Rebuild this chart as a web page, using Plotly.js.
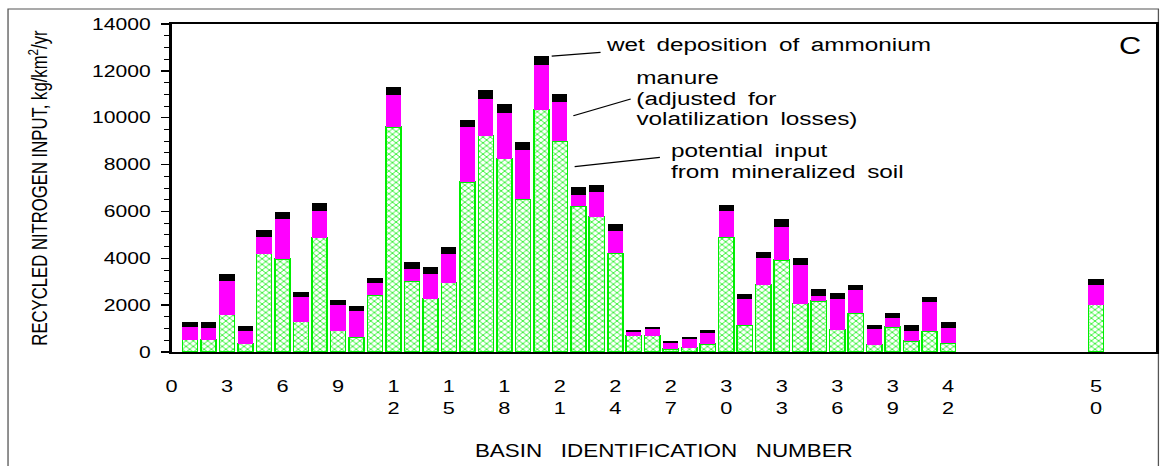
<!DOCTYPE html>
<html>
<head>
<meta charset="utf-8">
<script src="https://cdn.plot.ly/plotly-3.0.1.min.js"></script>
<style>
html,body{margin:0;padding:0;background:#fff;overflow:hidden;}
#wrap{width:1160px;height:466px;overflow:hidden;}
#chart{width:906px;height:466px;transform:scaleX(1.28035);transform-origin:0 0;}
</style>
</head>
<body>
<div id="wrap"><div id="chart"></div></div>
<script>
// Basin identification numbers
const basins = [1,2,3,4,5,6,7,8,9,10,11,12,13,14,15,16,17,18,19,20,21,22,23,24,25,26,27,28,29,30,31,32,33,34,35,36,37,38,39,40,41,42,50];
// Potential input from mineralized soil (kg/km2/yr)
const soil = [520,520,1590,360,4200,3970,1300,4880,910,630,2420,9600,3030,2280,2960,7260,9230,8250,6510,10340,9000,6220,5780,4220,700,700,130,190,340,4900,1140,2870,3930,2060,2180,950,1660,310,1070,470,880,380,2020];
// Manure, adjusted for volatilization losses (kg/km2/yr)
const manure = [530,500,1450,555,700,1710,1040,1150,1080,1140,530,1370,530,1050,1210,2330,1590,1950,2100,1920,1660,480,1040,950,170,300,270,380,470,1130,1140,1140,1410,1640,230,1310,1000,680,370,440,1240,640,850];
// Wet deposition of ammonium (kg/km2/yr)
const wet = [240,240,270,200,300,300,230,330,240,210,230,360,300,310,300,330,370,400,360,370,370,340,310,300,80,60,70,70,130,240,200,260,340,310,260,270,210,170,210,260,230,260,260];

const xTickVals = [0,3,6,9,12,15,18,21,24,27,30,33,36,39,42,50];
const xTickText = ["0","3","6","9","1<br>2","1<br>5","1<br>8","2<br>1","2<br>4","2<br>7","3<br>0","3<br>3","3<br>6","3<br>9","4<br>2","5<br>0"];
const yTickVals = [0,2000,4000,6000,8000,10000,12000,14000];

const FONT = "Liberation Sans, Arial, Helvetica, sans-serif";
const GREEN = "#00ee00";
const BW = 0.82;

const traces = [
  {
    type: "bar", x: basins, y: soil, width: BW, name: "potential input from mineralized soil",
    marker: {
      color: GREEN,
      pattern: {shape: "x", fgcolor: GREEN, bgcolor: "#ffffff", size: 4, solidity: 0.3, fillmode: "replace"},
      line: {color: GREEN, width: 1.2}
    },
    hoverinfo: "skip"
  },
  {
    type: "bar", x: basins, y: manure, width: BW, name: "manure",
    marker: {color: "#ff00ff", line: {width: 0}},
    hoverinfo: "skip"
  },
  {
    type: "bar", x: basins, y: wet, width: BW, name: "wet deposition of ammonium",
    marker: {color: "#000000", line: {width: 0}},
    hoverinfo: "skip"
  }
];

const ws = " \u2009";
function ann(text, x, y, size, anchor) {
  return {text: text, x: x, y: y, xref: "x", yref: "y", showarrow: false,
          xanchor: anchor || "left", yanchor: "middle", borderpad: 0,
          font: {family: FONT, size: size, color: "#000"}};
}

const layout = {
  width: 906, height: 466,
  margin: {l: 134, r: 3, t: 24, b: 114},
  paper_bgcolor: "#ffffff", plot_bgcolor: "#ffffff",
  barmode: "stack",
  showlegend: false,
  font: {family: FONT, color: "#000"},
  xaxis: {
    range: [0, 53.25],
    tickmode: "array", tickvals: xTickVals, ticktext: xTickText,
    ticks: "", ticklabelstandoff: 18,
    tickfont: {family: FONT, size: 17, color: "#000"},
    showline: true, linecolor: "#000", linewidth: 2, mirror: true,
    showgrid: false, zeroline: false,
    title: {text: "BASIN\u00a0\u00a0 IDENTIFICATION\u00a0\u00a0 NUMBER", font: {family: FONT, size: 17.5, color: "#000"}, standoff: 27}
  },
  yaxis: {
    range: [0, 14000],
    tickmode: "array", tickvals: yTickVals, tickformat: "d",
    ticks: "outside", ticklen: 6, tickwidth: 1.5, tickcolor: "#000",
    minor: {dtick: 500, ticks: "outside", ticklen: 4, tickwidth: 1, tickcolor: "#000", showgrid: false},
    ticklabelstandoff: 5,
    tickfont: {family: FONT, size: 16.5, color: "#000"},
    showline: true, linecolor: "#000", linewidth: 2, mirror: true,
    showgrid: false, zeroline: false,
    title: {text: "RECYCLED NITROGEN INPUT, kg/km<sup>2</sup>/yr", font: {family: FONT, size: 16.7, color: "#000"}, standoff: 30}
  },
  annotations: [
    ann("wet" + ws + "deposition" + ws + "of" + ws + "ammonium", 23.42, 13145, 19),
    ann("manure", 25.05, 11737, 19),
    ann("(adjusted" + ws + "for", 25.05, 10841, 19),
    ann("volatilization" + ws + "losses)", 25.05, 9987, 19),
    ann("potential" + ws + "input", 26.94, 8621, 19),
    ann("from" + ws + "mineralized" + ws + "soil", 26.94, 7725, 19),
    ann("C", 51.8, 13103, 24, "center")
  ],
  shapes: [
    {type: "line", xref: "x", yref: "y", x0: 20.56, y0: 12633, x1: 23.2, y1: 12791, line: {color: "#000", width: 1.2}},
    {type: "line", xref: "x", yref: "y", x0: 21.73, y0: 10085, x1: 24.83, y1: 10798, line: {color: "#000", width: 1.2}},
    {type: "line", xref: "x", yref: "y", x0: 21.8, y0: 7909, x1: 26.41, y1: 8310, line: {color: "#000", width: 1.2}},
    {type: "rect", xref: "paper", yref: "paper", x0: -0.1661, x1: 1.0023, y0: -0.45, y1: 1.0457,
     line: {color: "#555555", width: 1}, fillcolor: "rgba(0,0,0,0)", layer: "below"}
  ]
};

Plotly.newPlot("chart", traces, layout, {displayModeBar: false, staticPlot: true});
</script>
</body>
</html>
